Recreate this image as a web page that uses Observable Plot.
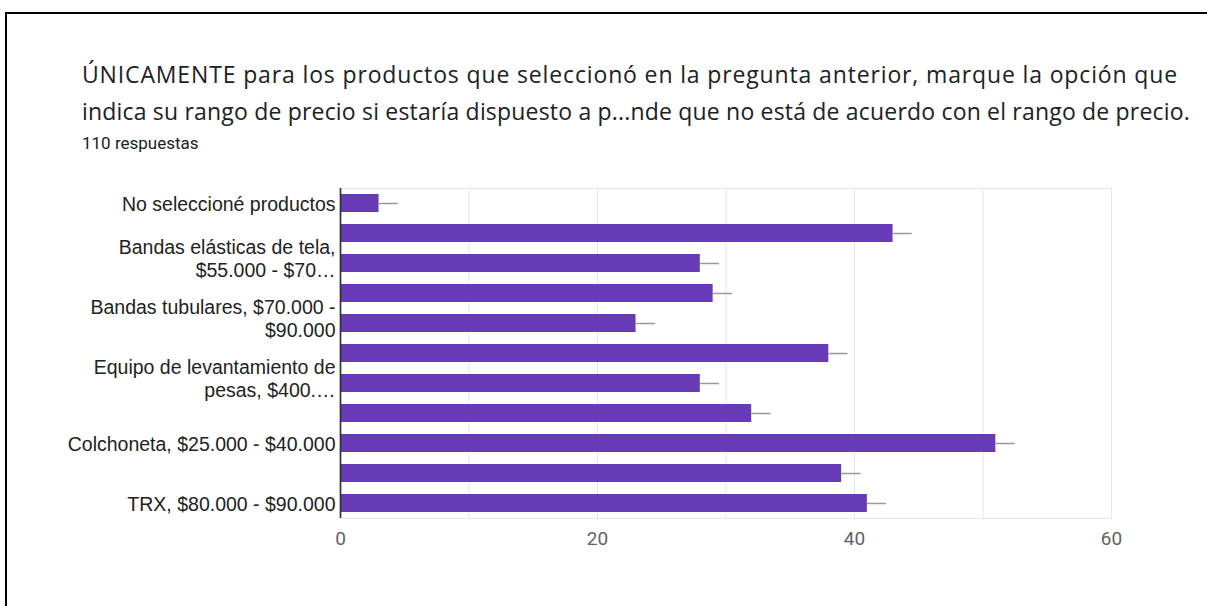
<!DOCTYPE html>
<html><head><meta charset="utf-8">
<script src="https://cdn.jsdelivr.net/npm/d3@7"></script>
<script src="https://cdn.jsdelivr.net/npm/@observablehq/plot@0.6"></script>
<style>
html,body{margin:0;background:#fff;overflow:hidden;}
#page{position:relative;width:1207px;height:606px;overflow:hidden;background:#fff;}
#bt{position:absolute;left:5px;top:12px;width:1202px;height:2px;background:#000;}
#bl{position:absolute;left:5px;top:12px;width:2px;height:594px;background:#000;}
.tl{position:absolute;left:82px;font-family:"Open Sans";font-size:23px;color:#202124;white-space:nowrap;line-height:1;}
#t1{top:63px;}
#t2{top:100px;}
#sub{position:absolute;left:82px;top:135px;font-family:Roboto;font-size:17px;color:#202124;line-height:1;}
#chart{position:absolute;left:0;top:0;}
</style></head><body>
<div id="page">
<div id="bt"></div><div id="bl"></div>
<div class="tl" id="t1">ÚNICAMENTE para los productos que seleccionó en la pregunta anterior, marque la opción que</div>
<div class="tl" id="t2">indica su rango de precio si estaría dispuesto a p...nde que no está de acuerdo con el rango de precio.</div>
<div id="sub">110 respuestas</div>
<div id="chart"></div>
</div>
<script>
// Categories (the reference only labels every other bar; unlabeled ones get placeholder names)
const categories = [
  "No seleccioné productos",
  "Opción 2 (sin etiqueta)",
  "Bandas elásticas de tela, $55.000 - $70...",
  "Opción 4 (sin etiqueta)",
  "Bandas tubulares, $70.000 - $90.000",
  "Opción 6 (sin etiqueta)",
  "Equipo de levantamiento de pesas, $400....",
  "Opción 8 (sin etiqueta)",
  "Colchoneta, $25.000 - $40.000",
  "Opción 10 (sin etiqueta)",
  "TRX, $80.000 - $90.000"
];
const tickLabels = [
  "No seleccioné productos",
  "",
  "Bandas elásticas de tela,\n$55.000 - $70…",
  "",
  "Bandas tubulares, $70.000 -\n$90.000",
  "",
  "Equipo de levantamiento de\npesas, $400.…",
  "",
  "Colchoneta, $25.000 - $40.000",
  "",
  "TRX, $80.000 - $90.000"
];
const values = [3, 43, 28, 29, 23, 38, 28, 32, 51, 39, 41];
const errors = [1.5, 1.5, 1.5, 1.5, 1.5, 1.5, 1.5, 1.5, 1.5, 1.5, 1.5];
const xTicks = [0, 20, 40, 60];
const xGrid = [0, 10, 20, 30, 40, 50, 60];

// fit title lines to the widths seen in the reference
[["t1", 1096], ["t2", 1108]].forEach(([id, target]) => {
  const el = document.getElementById(id);
  const w = el.getBoundingClientRect().width;
  const n = el.textContent.length;
  el.style.letterSpacing = ((target - w) / n) + "px";
});

const data = categories.map((c, i) => ({cat: c, value: values[i], err: errors[i]}));
const labelOf = new Map(categories.map((c, i) => [c, tickLabels[i]]));
const singleCats = categories.filter((c, i) => tickLabels[i] !== "" && !tickLabels[i].includes("\n"));
const multiCats = categories.filter((c, i) => tickLabels[i].includes("\n"));
const yAxisStyle = {tickSize: 0, tickPadding: 5, fontSize: 19.5, fill: "#222", fontFamily: "Liberation Sans", lineHeight: 1.15, label: null, tickFormat: d => labelOf.get(d)};

const chart = Plot.plot({
  width: 1207, height: 606,
  marginTop: 188, marginBottom: 88, marginLeft: 340, marginRight: 96,
  style: {background: "transparent"},
  x: {domain: [0, 60]},
  y: {domain: categories, paddingInner: 0.4, paddingOuter: 0.2},
  marks: [
    Plot.gridX(xGrid, {stroke: "#e6e6e6", strokeOpacity: 1}),
    Plot.frame({stroke: "#e6e6e6"}),
    Plot.barX(data, {x: "value", y: "cat", fill: "#673ab7"}),
    Plot.ruleY(data, {y: "cat", x1: "value", x2: d => d.value + d.err, stroke: "#999", strokeWidth: 1.5}),
    Plot.ruleX([0], {stroke: "#333", strokeWidth: 1.7}),
    Plot.axisX({ticks: xTicks, tickSize: 0, tickPadding: 13, fontSize: 19, fill: "#5f6368", fontFamily: "Roboto", label: null}),
    Plot.axisY({...yAxisStyle, ticks: singleCats}),
    Plot.axisY({...yAxisStyle, ticks: multiCats, dy: -5})
  ]
});
document.getElementById("chart").appendChild(chart);
</script>
</body></html>
